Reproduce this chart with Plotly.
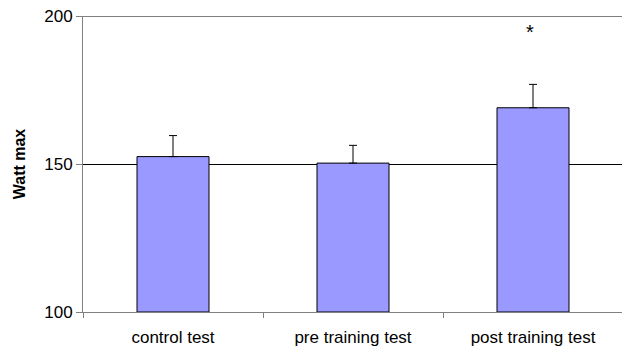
import plotly.graph_objects as go

categories = ["control test", "pre training test", "post training test"]
means = [152.5, 150.3, 169.0]
errors_plus = [7.1, 6.0, 7.9]
star_labels = ["", "", "*"]
star_y = [None, None, 194.6]
y_ticks = [100, 150, 200]

fig = go.Figure()
fig.add_trace(go.Bar(
    x=categories, y=[m - 100 for m in means], base=100,
    marker=dict(color="#9999FF", line=dict(color="#000000", width=1)),
    width=0.4,
    error_y=dict(type="data", array=errors_plus, arrayminus=[0, 0, 0],
                 symmetric=False, color="#000000", thickness=1, width=4),
    hoverinfo="skip",
))

for c, s, yv in zip(categories, star_labels, star_y):
    if s:
        fig.add_annotation(x=c, y=yv, text=s, showarrow=False, xshift=-3,
                           font=dict(family="Liberation Sans, Arial", size=20, color="#000"))

# top gridline (plotly omits the gridline lying on the plot edge)
fig.add_shape(type="line", xref="x domain", yref="y", x0=0, x1=1,
              y0=y_ticks[-1], y1=y_ticks[-1], line=dict(color="#000000", width=1))

fig.update_layout(
    width=622, height=352,
    margin=dict(l=75, r=7, t=8, b=48, autoexpand=False),
    paper_bgcolor="white", plot_bgcolor="white",
    showlegend=False,
    font=dict(family="Liberation Sans, Arial", color="#000"),
)
fig.update_xaxes(
    showline=True, linecolor="#808080", linewidth=1, automargin=False,
    ticks="outside", tickson="boundaries", ticklen=5, tickcolor="#808080",
    tickfont=dict(size=17, color="#000"), showgrid=False, ticklabelstandoff=10,
)
fig.update_yaxes(
    range=[100, 200], tickvals=y_ticks, automargin=False,
    showline=True, linecolor="#808080", linewidth=1,
    ticks="outside", ticklen=6, tickcolor="#808080",
    tickfont=dict(size=17, color="#000"), ticklabeloverflow="allow",
    showgrid=True, gridcolor="#000000", gridwidth=1, zeroline=False,
    title=dict(text="<b>Watt max</b>", font=dict(size=16, color="#000"), standoff=14),
)

fig.write_html("out.html")
